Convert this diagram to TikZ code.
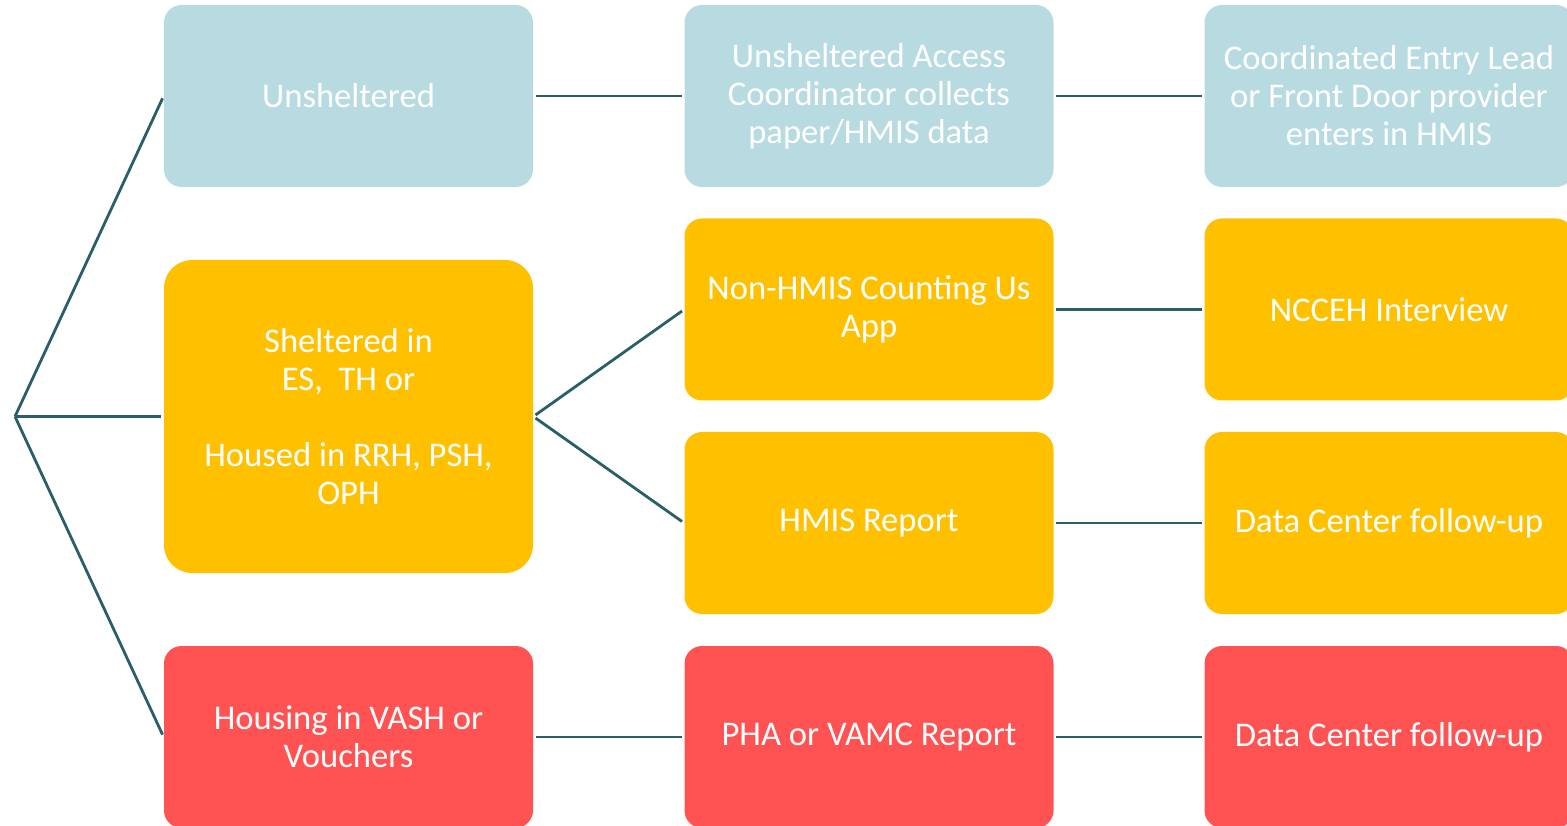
\documentclass[tikz,border=0pt]{standalone}
\usepackage{fontspec}
\setmainfont{Carlito}
\usetikzlibrary{positioning}
\definecolor{pitblue}{HTML}{B8DBE2}
\definecolor{pitorange}{HTML}{FFC000}
\definecolor{pitred}{HTML}{FF5252}
\definecolor{pitline}{HTML}{2A5F6A}
\tikzset{
    stage/.style = {rectangle, rounded corners=0.35cm, minimum width=7.38cm, minimum height=3.64cm, align=center, text=white, font=\fontsize{19.7}{21.6}\selectfont, inner sep=2pt},
    stageb/.style = {stage, fill=pitblue},
    stageo/.style = {stage, fill=pitorange},
    stager/.style = {stage, fill=pitred},
    link/.style = {line width=1.6pt, draw=pitline, shorten >=1.5pt, shorten <=1.5pt},
}
\begin{document}
\begin{tikzpicture}
  \useasboundingbox (0,0) rectangle (31.34,-16.52);
  \coordinate (root) at (0.30,-8.33);

  % first column
  \node[stageb] at (6.97,-1.92) (uns) {Unsheltered};
  \node[stageo, minimum height=6.26cm, rounded corners=0.56cm] at (6.97,-8.33) (shel) {Sheltered in\\ ES,\ \ TH or\\ \\ Housed in RRH, PSH,\\ OPH};
  \node[stager] at (6.97,-14.74) (vash) {Housing in VASH or\\ Vouchers};

  % second column
  \node[stageb] at (17.38,-1.92) (uac) {Unsheltered Access\\ Coordinator collects\\ paper/HMIS data};
  \node[stageo] at (17.38,-6.19) (app) {Non-HMIS Counting Us\\ App};
  \node[stageo] at (17.38,-10.46) (rep) {HMIS Report};
  \node[stager] at (17.38,-14.74) (pha) {PHA or VAMC Report};

  % third column
  \node[stageb] at (27.78,-1.92) (cel) {Coordinated Entry Lead\\ or Front Door provider\\ enters in HMIS};
  \node[stageo] at (27.78,-6.19) (ncc) {NCCEH Interview};
  \node[stageo] at (27.78,-10.46) (dcf) {Data Center follow-up};
  \node[stager] at (27.78,-14.74) (dcr) {Data Center follow-up};

  \draw[link, shorten <=0pt] (root) -- (uns.west);
  \draw[link, shorten <=0pt] (root) -- (shel.west);
  \draw[link, shorten <=0pt] (root) -- (vash.west);
  \draw[link] (uns) -- (uac);
  \draw[link] (shel.east) -- (app.west);
  \draw[link] (shel.east) -- (rep.west);
  \draw[link] (vash) -- (pha);
  \draw[link] (uac) -- (cel);
  \draw[link] (app) -- (ncc);
  \draw[link] (rep) -- (dcf);
  \draw[link] (pha) -- (dcr);
\end{tikzpicture}
\end{document}
